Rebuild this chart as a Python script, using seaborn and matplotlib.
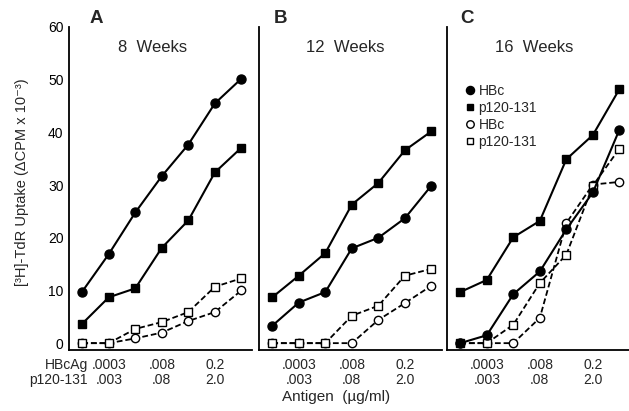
import matplotlib
matplotlib.use("Agg")
import matplotlib.pyplot as plt
import seaborn as sns
import numpy as np
from matplotlib.lines import Line2D

# ---- data ----
positions = [0, 1, 2, 3, 4, 5, 6]
tick_pos = [1, 3, 5]
hbcag_labels = [".0003", ".008", "0.2"]
p120_labels = [".003", ".08", "2.0"]
panel_letters = ["A", "B", "C"]
panel_titles = ["8  Weeks", "12  Weeks", "16  Weeks"]
series_names = ["HBc", "p120-131", "HBc", "p120-131"]

# panel A (8 weeks)
a_hbc_filled = [9.8, 16.9, 24.8, 31.7, 37.7, 45.5, 50.2]
a_p120_filled = [3.7, 8.7, 10.4, 18.1, 23.3, 32.4, 37.1]
a_hbc_open = [0.0, 0.0, 0.9, 2.0, 4.2, 5.9, 10.0]
a_p120_open = [0.0, 0.0, 2.7, 4.0, 5.9, 10.7, 12.3]
# panel B (12 weeks)
b_hbc_filled = [3.3, 7.7, 9.7, 18.0, 20.0, 23.7, 29.9]
b_p120_filled = [8.7, 12.8, 17.1, 26.3, 30.4, 36.6, 40.2]
b_hbc_open = [0.0, 0.0, 0.0, 0.0, 4.4, 7.6, 10.9]
b_p120_open = [0.0, 0.0, 0.0, 5.2, 7.1, 12.8, 14.1]
# panel C (16 weeks)
c_hbc_filled = [0.0, 1.5, 9.3, 13.6, 21.6, 28.6, 40.5]
c_p120_filled = [9.7, 12.0, 20.1, 23.2, 34.9, 39.5, 48.2]
c_hbc_open = [0.0, 0.0, 0.0, 4.8, 22.8, 30.1, 30.6]
c_p120_open = [0.0, 0.0, 3.5, 11.4, 16.8, 29.9, 36.9]

panels = [
    [a_hbc_filled, a_p120_filled, a_hbc_open, a_p120_open],
    [b_hbc_filled, b_p120_filled, b_hbc_open, b_p120_open],
    [c_hbc_filled, c_p120_filled, c_hbc_open, c_p120_open],
]

sns.set_style("white")
plt.rcParams["font.family"] = ["Liberation Sans", "DejaVu Sans"]

W, H = 629, 411
fig = plt.figure(figsize=(W / 100, H / 100), dpi=100)

ax_left_px = [69, 259, 447]
ax_w_px = 183
top_px, bot_px = 27, 350

styles = [
    dict(marker="o", ms=6.5, mfc="black", ls="-", lw=1.5),
    dict(marker="s", ms=5.5, mfc="black", ls="-", lw=1.5),
    dict(marker="o", ms=6.0, mfc="white", ls=(0, (3.2, 1.6)), lw=1.3),
    dict(marker="s", ms=5.5, mfc="white", ls=(0, (3.2, 1.6)), lw=1.3),
]

letter_x = [0.148, 0.12, 0.11]
title_x = [0.455, 0.47, 0.475]
label_top_px = 358
label_y = -(label_top_px - bot_px) / (bot_px - top_px)

axes = []
for i, (lx, series) in enumerate(zip(ax_left_px, panels)):
    ax = fig.add_axes([lx / W, (H - bot_px) / H, ax_w_px / W, (bot_px - top_px) / H])
    axes.append(ax)
    order = [2, 3, 0, 1]
    for k in order:
        st = styles[k]
        sns.lineplot(x=positions, y=series[k], ax=ax, color="black",
                     marker=st["marker"], markersize=st["ms"],
                     markerfacecolor=st["mfc"], markeredgecolor="black",
                     markeredgewidth=1.0, linestyle=st["ls"], linewidth=st["lw"],
                     errorbar=None, sort=False, zorder=3 if k < 2 else 2)
    ax.set_xlim(-0.5, 6.4)
    ax.set_ylim(-1.3, 60)
    for s in ["top", "right"]:
        ax.spines[s].set_visible(False)
    for s in ["left", "bottom"]:
        ax.spines[s].set_linewidth(1.3)
        ax.spines[s].set_color("black")
    ax.set_xticks(positions)
    ax.set_xticklabels([])
    ax.set_yticks([0, 10, 20, 30, 40, 50, 60])
    ax.tick_params(axis="both", direction="in", length=5, width=1.1, colors="black")
    ax.tick_params(axis="y", labelsize=10, pad=4)
    if i > 0:
        ax.set_yticklabels([])
    ax.set_xlabel("")
    ax.set_ylabel("")
    ax.text(letter_x[i], 1.026, panel_letters[i], transform=ax.transAxes,
            fontsize=13.5, fontweight="bold", ha="center", va="center")
    ax.text(title_x[i], 0.938, panel_titles[i], transform=ax.transAxes,
            fontsize=12, ha="center", va="center")
    for tp, l1, l2 in zip(tick_pos, hbcag_labels, p120_labels):
        ax.text(tp, label_y, l1 + "\n" + l2, transform=ax.get_xaxis_transform(),
                fontsize=10, ha="center", va="top", linespacing=1.05)

# row labels
fig.text(88 / W, 1 - label_top_px / H, "HBcAg\np120-131", fontsize=10, ha="right",
         va="top", multialignment="right", linespacing=1.05)

# axis titles
fig.text(336 / W, 1 - 397 / H, "Antigen  (µg/ml)", fontsize=11, ha="center", va="center")
fig.text(22 / W, 1 - 182 / H, "[³H]-TdR Uptake (ΔCPM x 10⁻³)", fontsize=10.5,
         ha="center", va="center", rotation=90)

# legend
handles = [Line2D([], [], color="black", marker=st["marker"], markersize=st["ms"] * 0.9,
                  markerfacecolor=st["mfc"], markeredgecolor="black", linestyle="none",
                  markeredgewidth=1.0) for st in styles]
axes[2].legend(handles, series_names, loc="upper left", frameon=False,
               bbox_to_anchor=(0.1, 0.825), handlelength=0.7, handletextpad=0.25,
               borderpad=0, borderaxespad=0, labelspacing=0.22, fontsize=10)

fig.savefig("out.png", dpi=100)
